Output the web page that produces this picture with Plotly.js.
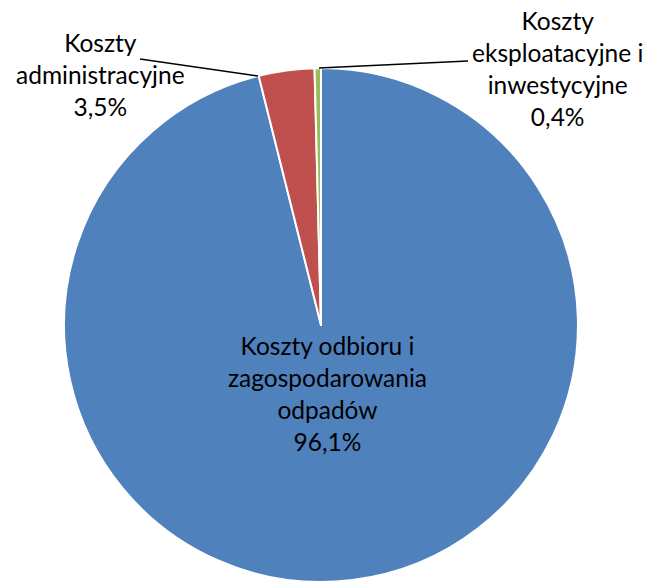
<!DOCTYPE html>
<html>
<head>
<meta charset="utf-8">
<script src="https://cdn.plot.ly/plotly-3.0.1.min.js"></script>
<style>html,body{margin:0;padding:0;background:#fff;}#chart{width:649px;height:582px;}</style>
</head>
<body>
<div id="chart"></div>
<script>
const labels = ["Koszty odbioru i<br>zagospodarowania<br>odpadów", "Koszty<br>administracyjne", "Koszty<br>eksploatacyjne i<br>inwestycyjne"];
const values = [96.1, 3.5, 0.4];
const colors = ["#4F81BD", "#C0504D", "#9BBB59"];

const W = 649, H = 582;
const px = x => x / W;
const py = y => 1 - y / H;
const fmt = v => v.toFixed(1).replace(".", ",") + "%";
const FONT = {family: "Lato, 'Noto Sans', sans-serif", size: 24.5, color: "#000"};

const trace = {
  type: "pie",
  labels: labels,
  values: values,
  sort: false,
  direction: "clockwise",
  rotation: 0,
  textinfo: "none",
  hoverinfo: "label+percent",
  marker: {colors: colors, line: {color: "#ffffff", width: 2}},
  domain: {x: [0.0986, 0.8906], y: [0.0, 0.883]},
  showlegend: false
};

const labelPos = [[327, 393], [100, 75], [557, 68]];
const annotations = labels.map((l, i) => ({
  xref: "paper", yref: "paper",
  x: px(labelPos[i][0]), y: py(labelPos[i][1]),
  xanchor: "center", yanchor: "middle",
  text: l + "<br>" + fmt(values[i]),
  showarrow: false, font: FONT, align: "center"
}));

const shapes = [
  {type: "line", xref: "paper", yref: "paper", x0: px(140), y0: py(59), x1: px(258), y1: py(76), line: {color: "#000", width: 1.5}},
  {type: "line", xref: "paper", yref: "paper", x0: px(319), y0: py(68), x1: px(468), y1: py(61), line: {color: "#000", width: 1.5}}
];

Plotly.newPlot("chart", [trace], {
  width: W, height: H,
  margin: {l: 0, r: 0, t: 0, b: 0},
  paper_bgcolor: "#fff",
  annotations: annotations,
  shapes: shapes
}, {displayModeBar: false, staticPlot: true});
</script>
</body>
</html>
